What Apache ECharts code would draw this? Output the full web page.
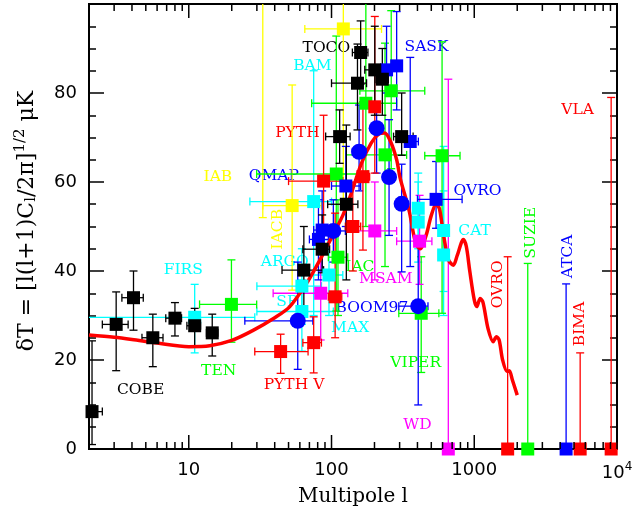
<!DOCTYPE html>
<html>
<head>
<meta charset="utf-8">
<script src="https://cdn.jsdelivr.net/npm/echarts@6.0.0/dist/echarts.min.js"></script>
<style>
html,body{margin:0;padding:0;background:#fff;}
#main{width:636px;height:515px;}
</style>
</head>
<body>
<div id="main"></div>
<script>
// ticks of the multipole axis (log)
var xMajor = [10, 100, 1000, 10000];
var xMinor = [2,3,4,5,6,7,8,9, 20,30,40,50,60,70,80,90, 200,300,400,500,600,700,800,900, 2000,3000,4000,5000,6000,7000,8000,9000];

// theory curve
var theoryL = [2,3,4,6,10,14,20,28,40,51,68,83,100,120,135,162,190,215,235,260,286,302,350,390,420,460,500,540,570,610,660,713,760,839,880,930,1000,1041,1100,1150,1250,1358,1430,1494,1580,1698,1760,1850,2000];
var theoryT = [25.6,25.1,24.6,23.8,23.0,23.2,24.4,26.6,29.5,32,37.6,42.5,47.5,52.5,56.7,64.2,68.8,70.8,71,69,65,61,53.5,46,45,48,52.5,55,54,48,42.5,41.3,43.5,47.1,45.5,40,33.5,32,33.8,33,27,24.1,25.2,24.5,20,17.4,17.6,15.5,12.1];

// rows: [l, dT, lLow, lHigh, dTLow, dTHigh]  (dT = 0 -> upper limit)
var blackPts = [
  [2.1, 8.4, 1.97, 2.48, 1.0, 24.3],
  [3.1, 28.0, 2.48, 3.76, 17.6, 35.3],
  [4.1, 34.0, 3.4, 4.8, 26.7, 40.0],
  [5.6, 25.0, 4.7, 6.6, 18.5, 30.3],
  [8.0, 29.4, 6.9, 8.9, 25.4, 32.9],
  [11.0, 27.7, 9.7, 12.1, 23.0, 31.6],
  [14.6, 26.1, 13.3, 16.0, 20.9, 30.3],
  [64, 40.2, 45, 88, 31.2, 50.0],
  [86, 44.9, 63, 97, 39.6, 52.6],
  [114, 70.2, 91, 135, 64.2, 76.2],
  [127, 55.0, 94, 153, 38.0, 72.8],
  [152, 82.2, 100, 176, 71.7, 91.0],
  [160, 89.1, 140, 180, 82.0, 96.2],
  [201, 85.2, 171, 230, 75.0, 95.0],
  [227, 83.1, 205, 250, 75.0, 90.0],
  [310, 70.2, 272, 373, 66.0, 80.0]
];
var redPts = [
  [44, 21.9, 29, 68.5, 17.0, 25.8],
  [75, 23.9, 63, 85, 17.1, 29.7],
  [88, 60.2, 50, 120, 45.0, 75.0],
  [106, 34.2, 95, 118, 25.0, 53.0],
  [141, 50.0, 125, 160, 40.0, 60.0],
  [166, 61.2, 150, 185, 44.7, 78.0],
  [201, 76.9, 185, 218, 62.0, 97.2],
  [1714, 0, null, null, 0, 43.2],
  [5520, 0, null, null, 0, 21.6],
  [9100, 0, null, null, 0, 79.0]
];
var blueSq = [
  [81, 47.1, 70, 95, 38, 56],
  [86, 49.2, 75, 100, 40, 58],
  [126, 59.1, 100, 160, 50, 68],
  [243, 85.2, 225, 262, 80, 95],
  [286, 86.1, 272, 306, 76.2, 98.3],
  [356, 69.1, 327, 406, 41, 88],
  [540, 56.1, 400, 822, 49.6, 64.6],
  [4400, 0, null, null, 0, 37.1]
];
var blueDot = [
  [58, 28.8, 24.7, 74, 17.9, 42],
  [103, 49.0, 85, 125, 42, 56],
  [156, 66.8, 140, 175, 58, 77.3],
  [207, 72.1, 190, 225, 62, 77.3],
  [253, 61.1, 230, 280, 48, 74],
  [310, 55.1, 285, 340, 39.8, 64],
  [405, 32.1, 296, 474, 9.9, 47]
];
var greenPts = [
  [19.9, 32.5, 11.9, 29.9, 24.0, 42.5],
  [108, 61.8, 29.9, 180, 31.0, 92.8],
  [111, 43.1, 95, 130, 30.0, 56.0],
  [174, 77.7, 72.6, 286, 50.0, 110],
  [237, 66.1, 127, 336, 41.0, 91.2],
  [262, 80.5, 158, 450, 63.0, 98.5],
  [425, 30.5, 296, 565, 17.2, 43.2],
  [595, 65.9, 450, 795, 30.5, 91.5],
  [2370, 0, null, null, 0, 41.7]
];
var cyanPts = [
  [11, 29.6, 1.5, 29, 21.6, 37.0],
  [75, 55.6, 26.8, 100, 30, 85],
  [62, 36.6, 30, 85, 28, 45],
  [62, 30.9, 30, 103, 22, 38],
  [96, 39.1, 70, 120, 30, 47],
  [405, 54.1, 380, 430, 45, 62],
  [405, 51.0, 380, 430, 42, 60],
  [610, 49.1, 575, 650, 35.4, 68],
  [610, 43.6, 575, 650, 30, 58]
];
var magentaPts = [
  [84, 35.0, 39, 130, 24.5, 47],
  [201, 49.0, 127, 286, 38, 60],
  [414, 46.7, 286, 505, 37, 57],
  [658, 0, null, null, 0, 83.1]
];
var yellowPts = [
  [33, 112, null, null, 52, 170],
  [53, 54.7, 33, 85, 35.7, 81.8],
  [121, 94.4, 65, 224, 55, 130]
];

// experiment names: [text, l, dT, colour, vertical]
var notes = [
  ['TOCO', 92, 90.2, '#000000', 0],
  ['SASK', 463, 90.3, '#0000ff', 0],
  ['BAM', 73.5, 86.1, '#00ffff', 0],
  ['VLA', 5300, 76.2, '#ff0000', 0],
  ['PYTH', 57.7, 71.1, '#ff0000', 0],
  ['IAB', 16, 61.1, '#ffff00', 0],
  ['QMAP', 39.4, 61.3, '#0000ff', 0],
  ['OVRO', 1055, 58.0, '#0000ff', 0],
  ['CAT', 1005, 49.0, '#00ffff', 0],
  ['FIRS', 9.15, 40.2, '#00ffff', 0],
  ['ARGO', 47, 42.1, '#00ffff', 0],
  ['IAC', 158, 41.0, '#00ff00', 0],
  ['MSAM', 240, 38.1, '#ff00ff', 0],
  ['SP', 48.6, 33.1, '#00ffff', 0],
  ['BOOM97', 192, 31.8, '#0000ff', 0],
  ['MAX', 135, 27.1, '#00ffff', 0],
  ['TEN', 16.2, 17.6, '#00ff00', 0],
  ['VIPER', 389, 19.3, '#00ff00', 0],
  ['COBE', 4.6, 13.3, '#000000', 0],
  ['PYTH V', 54.6, 14.3, '#ff0000', 0],
  ['WD', 400, 5.4, '#ff00ff', 0],
  ['IACB', 42.3, 49.4, '#ffff00', 1],
  ['OVRO', 1456, 37.0, '#ff0000', 1],
  ['SUZIE', 2480, 48.6, '#00ff00', 1],
  ['ATCA', 4500, 43.3, '#0000ff', 1],
  ['BIMA', 5500, 28.1, '#ff0000', 1]
];

var serif = 'DejaVu Serif';
var sans = 'DejaVu Sans';

// error bars with little caps
function errBars(rows, color) {
  return {
    type: 'custom', z: 3, clip: true, silent: true,
    data: rows.map(function (r) { return [r[0], r[1]]; }),
    renderItem: function (params, api) {
      var r = rows[params.dataIndex];
      var st = { stroke: color, lineWidth: 1.3 };
      var kids = [];
      function ln(x1, y1, x2, y2) {
        kids.push({ type: 'line', shape: { x1: x1, y1: y1, x2: x2, y2: y2 }, style: st });
      }
      if (r[4] != null) {
        var a = api.coord([r[0], r[4]]), b = api.coord([r[0], r[5]]);
        ln(a[0], a[1], b[0], b[1]);
        ln(a[0] - 4, a[1], a[0] + 4, a[1]);
        ln(b[0] - 4, b[1], b[0] + 4, b[1]);
      }
      if (r[2] != null) {
        var c = api.coord([r[2], r[1]]), d = api.coord([r[3], r[1]]);
        ln(c[0], c[1], d[0], d[1]);
        ln(c[0], c[1] - 4, c[0], c[1] + 4);
        ln(d[0], d[1] - 4, d[0], d[1] + 4);
      }
      return { type: 'group', children: kids };
    }
  };
}

function marks(rows, color, symbol, size) {
  return {
    type: 'scatter', z: 5, clip: false, silent: true,
    symbol: symbol, symbolSize: size,
    itemStyle: { color: color, opacity: 1 },
    data: rows.map(function (r) { return [r[0], r[1]]; })
  };
}

var tickRows = xMajor.map(function (v) { return [v, 0, 14]; })
  .concat(xMinor.map(function (v) { return [v, 0, 7]; }));

var series = [
  // experiment names
  {
    type: 'custom', z: 2, clip: false, silent: true,
    data: notes.map(function (n) { return [n[1], n[2]]; }),
    renderItem: function (params, api) {
      var n = notes[params.dataIndex];
      var p = api.coord([n[1], n[2]]);
      return {
        type: 'text', x: p[0], y: p[1], rotation: n[4] ? Math.PI / 2 : 0,
        style: { text: n[0], fill: n[3], font: '15.5px "' + serif + '"',
          align: 'center', verticalAlign: 'middle', textAlign: 'center', textVerticalAlign: 'middle' }
      };
    }
  },
  // x ticks, bottom and top
  {
    type: 'custom', z: 6, clip: false, silent: true,
    data: tickRows,
    renderItem: function (params, api) {
      var r = tickRows[params.dataIndex];
      var b = api.coord([r[0], 0]), t = api.coord([r[0], 100]);
      var st = { stroke: '#000', lineWidth: 1.5 };
      return { type: 'group', children: [
        { type: 'line', shape: { x1: b[0], y1: b[1], x2: b[0], y2: b[1] - r[2] }, style: st },
        { type: 'line', shape: { x1: t[0], y1: t[1], x2: t[0], y2: t[1] + r[2] }, style: st }
      ] };
    }
  },
  errBars(yellowPts, '#ffff00'),
  errBars(cyanPts, '#00ffff'),
  errBars(greenPts, '#00ff00'),
  errBars(magentaPts, '#ff00ff'),
  errBars(blueSq, '#0000ff'),
  errBars(blueDot, '#0000ff'),
  errBars(redPts, '#ff0000'),
  errBars(blackPts, '#000000'),
  {
    type: 'line', z: 4, silent: true, showSymbol: false, smooth: 0.3,
    lineStyle: { color: '#ff0000', width: 3.5 },
    data: theoryL.map(function (l, i) { return [l, theoryT[i]]; })
  },
  marks(yellowPts, '#ffff00', 'rect', 13),
  marks(cyanPts, '#00ffff', 'rect', 13),
  marks(greenPts, '#00ff00', 'rect', 13),
  marks(magentaPts, '#ff00ff', 'rect', 13),
  marks(redPts, '#ff0000', 'rect', 13),
  marks(blueSq, '#0000ff', 'rect', 13),
  marks(blackPts, '#000000', 'rect', 13),
  marks(blueDot, '#0000ff', 'circle', 16)
];

var yAxisBase = function (pos, showLabel) {
  return {
    type: 'value', position: pos, min: 0, max: 100, interval: 20,
    axisLine: { show: false }, splitLine: { show: false },
    axisTick: { inside: true, length: 15, lineStyle: { color: '#000', width: 1.5 } },
    minorTick: { show: true, splitNumber: 4, length: 7, lineStyle: { color: '#000', width: 1.5 } },
    axisLabel: { show: showLabel, margin: 12, color: '#000', fontFamily: sans, fontSize: 18,
      formatter: function (v) { return v >= 100 ? '' : String(v); } }
  };
};

var option = {
  animation: false,
  grid: { left: 89, right: 19, top: 4, bottom: 66, show: true, borderColor: '#000', borderWidth: 2,
    backgroundColor: 'transparent', containLabel: false, outerBoundsMode: 'none' },
  xAxis: {
    type: 'log', logBase: 10, min: 2, max: 10000,
    axisLine: { show: false }, axisTick: { show: false }, splitLine: { show: false },
    axisLabel: {
      interval: 0, margin: 12, color: '#000', fontFamily: sans, fontSize: 18,
      formatter: function (v) {
        var e = Math.log(v) / Math.LN10;
        if (Math.abs(e - Math.round(e)) > 1e-6) return '';
        e = Math.round(e);
        if (e === 4) return '{n|10}{s|4}';
        return String(Math.round(v));
      },
      rich: {
        n: { fontFamily: sans, fontSize: 18, color: '#000' },
        s: { fontFamily: sans, fontSize: 12, color: '#000', padding: [0, 0, 12, 0] }
      }
    }
  },
  yAxis: [yAxisBase('left', true), yAxisBase('right', false)],
  graphic: [
    {
      type: 'text', x: 353, y: 497, z: 10,
      style: { text: 'Multipole l', fill: '#000', font: '20px "' + serif + '"',
        align: 'center', verticalAlign: 'middle' }
    },
    {
      type: 'text', x: 27, y: 221, rotation: Math.PI / 2, z: 10,
      style: {
        text: '{m|\u03b4T = [l(l+1)C}{b|l}{m|/2\u03c0]}{p|1/2}{m| \u03bcK}',
        align: 'center', verticalAlign: 'middle',
        rich: {
          m: { fontFamily: serif, fontSize: 22, fill: '#000' },
          b: { fontFamily: serif, fontSize: 15, fill: '#000', padding: [9, 0, 0, 0] },
          p: { fontFamily: serif, fontSize: 15, fill: '#000', padding: [0, 0, 13, 0] }
        }
      }
    }
  ],
  series: series
};

var myChart = echarts.init(document.getElementById('main'));
myChart.setOption(option);
</script>
</body>
</html>
